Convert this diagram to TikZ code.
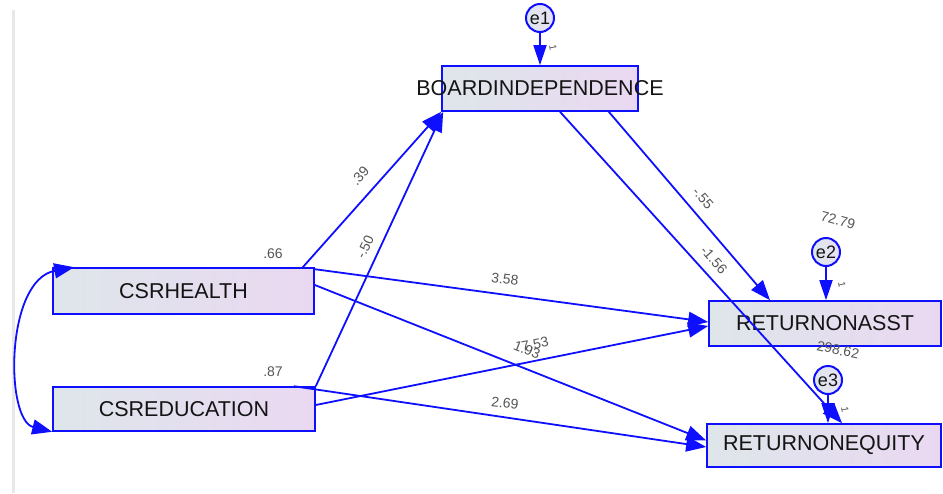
\documentclass[tikz,border=0pt]{standalone}
\usepackage{fontspec}
\setmainfont{Liberation Sans}
\usetikzlibrary{arrows.meta,calc}
\definecolor{pathblue}{RGB}{15,15,255}
\definecolor{boxleft}{RGB}{222,230,234}
\definecolor{boxright}{RGB}{234,216,242}
\definecolor{errfill}{RGB}{232,226,246}
\definecolor{labgray}{RGB}{85,85,85}
\definecolor{txt}{RGB}{20,20,20}
\tikzset{
  varbox/.style={draw=pathblue, line width=1.6pt, left color=boxleft, right color=boxright,
    inner sep=0pt, minimum height=45pt},
  boxtext/.style={font=\fontsize{21.5}{24}\selectfont, text=txt, inner sep=0pt},
  errnode/.style={circle, draw=pathblue, line width=2pt, left color=boxleft, right color=errfill,
    minimum size=28pt, inner sep=0pt, font=\fontsize{18}{20}\selectfont, text=txt},
  path/.style={draw=pathblue, line width=1.8pt, -{Triangle[length=20pt,width=15pt]}},
  cov/.style={draw=pathblue, line width=1.8pt, {Triangle[length=20pt,width=15pt]}-{Triangle[length=20pt,width=15pt]}},
  errpath/.style={draw=pathblue, line width=1.8pt, -{Triangle[length=20pt,width=13pt]}},
  coef/.style={font=\fontsize{14}{16}\selectfont, text=labgray, inner sep=0pt},
  one/.style={font=\fontsize{10}{12}\selectfont, text=labgray, inner sep=0pt, rotate=-80}
}
\begin{document}
\begin{tikzpicture}[x=1pt,y=-1pt]
\useasboundingbox (0,0) rectangle (943,493);
\draw[gray!18, line width=3pt] (13,10) -- (13,493);

% observed variables
\node[varbox, minimum width=196pt, label={[boxtext]center:BOARDINDEPENDENCE}] (bi) at (540,88.5) {};
\node[varbox, minimum width=261pt, minimum height=46pt, label={[boxtext]center:CSRHEALTH}] (ch) at (183.5,291) {};
\node[varbox, minimum width=262pt, minimum height=44pt, label={[boxtext]center:CSREDUCATION}] (ce) at (184,409) {};
\node[varbox, minimum width=232pt, label={[boxtext]center:RETURNONASST}] (ra) at (825,323.5) {};
\node[varbox, minimum width=234pt, minimum height=43pt, label={[boxtext]center:RETURNONEQUITY}] (re) at (824,445.5) {};

% error terms
\node[errnode] (e1) at (540,18) {e1};
\node[errnode] (e2) at (826,252) {e2};
\node[errnode] (e3) at (828,380) {e3};
\draw[errpath] (e1.south) -- (e1.south |- bi.north);
\draw[errpath] (e2.south) -- (e2.south |- ra.north);
\draw[errpath] (e3.south) -- (e3.south |- re.north);
\node[one] (o1) at (553,48) {1};
\node[one] (o2) at (842,285) {1};
\node[one] (o3) at (845,410) {1};
\node[coef, rotate=-15] (v2) at (838,220) {72.79};
\node[coef, rotate=-12] (v3) at (838,350) {298.62};

% covariance between the exogenous variables
\draw[cov] ([xshift=22pt]ch.north west) .. controls (5,280) and (5,420) .. (ce.south west);

% regression paths
\draw[path] ([xshift=-12pt]ch.north east) -- (bi.south west);
\draw[path] (ce.north east) -- ([xshift=2pt]bi.south west);
\draw[path] ([xshift=-30pt]bi.south east) -- ([xshift=-55pt]ra.north);
\draw[path] ([xshift=20pt]bi.south) -- ([xshift=18pt]re.north);
\draw[path] ([yshift=-2pt]ch.north east) -- ([yshift=1.5pt]ra.west);
\draw[path] ([yshift=6pt]ch.east) -- ([yshift=5pt]re.west);
\draw[path] ([yshift=4pt]ce.east) -- ([yshift=-2.5pt]ra.west);
\draw[path] ([xshift=-22pt]ce.north east) -- ([yshift=-1.5pt]re.west);

% coefficients
\node[coef] (r1) at (273,254) {.66};
\node[coef] (r2) at (273,372) {.87};
\node[coef, rotate=48] (c1) at (360,176) {.39};
\node[coef, rotate=65] (c2) at (365,247) {-.50};
\node[coef, rotate=-49] (c3) at (703,198) {-.55};
\node[coef, rotate=-48] (c4) at (714,260) {-1.56};
\node[coef, rotate=-7] (c5) at (505,279) {3.58};
\node[coef, rotate=-21] (c6) at (527,350) {1.93};
\node[coef, rotate=11] (c7) at (535,344) {7.53};
\node[coef, rotate=-7] (c8) at (505,403) {2.69};
\end{tikzpicture}
\end{document}
